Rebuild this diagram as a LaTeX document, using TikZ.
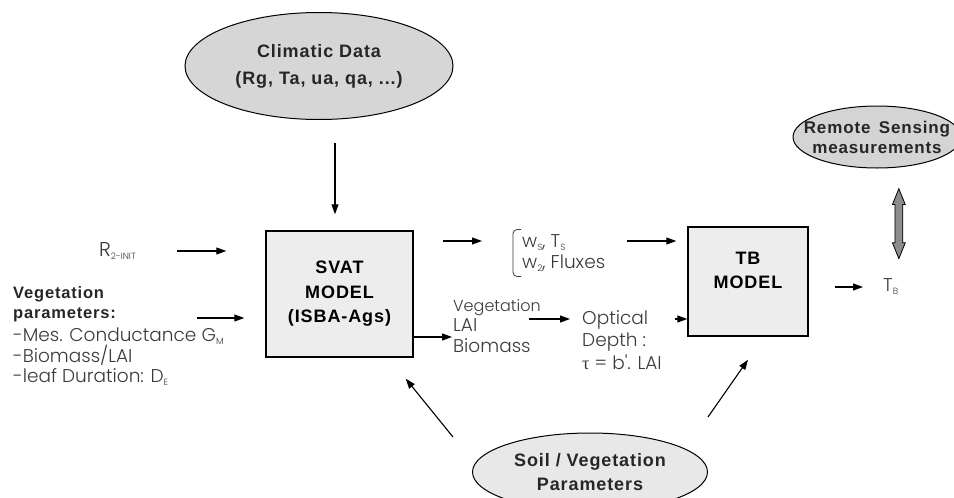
\documentclass[tikz,border=0pt]{standalone}
\usepackage{fontspec}
\setmainfont{Liberation Sans}
\newfontfamily\thinfont{Poppins Light}
\newfontfamily\spreadfont{Liberation Sans}[LetterSpace=5]
\newfontfamily\greekfont{Liberation Serif}
\usepackage{tikz}
\usetikzlibrary{shapes.geometric,shapes.arrows,arrows.meta,calc}

\definecolor{inkgray}{HTML}{3A3A3A}
\newcommand\boldlbl{\spreadfont\bfseries\fontsize{18}{24.5}\selectfont}
\newcommand\thinlbl{\thinfont\fontsize{18.5}{20.5}\selectfont}
\newcommand\lowsub[1]{\raisebox{-3pt}{\fontsize{9}{9}\selectfont #1}}

\begin{document}
\begin{tikzpicture}[
    x=1pt, y=-1pt,
    model/.style={rectangle, draw, line width=1.4pt, fill=black!7, inner sep=0pt},
    cloud/.style={ellipse, draw, line width=1pt, font=\boldlbl, text=black!85, align=center, inner sep=-15pt},
    thinlabel/.style={font=\thinlbl, text=inkgray, inner sep=0pt, align=left},
    arrow/.style={line width=1.1pt, -{Triangle[length=10pt,width=7pt]}},
    sensing/.style={double arrow, draw, line width=0.8pt, fill=black!45, inner sep=3.5pt, minimum height=70pt, double arrow head extend=2.5pt, double arrow tip angle=44, rotate=90}
]
    \useasboundingbox (0,0) rectangle (954,498);

    % inputs
    \node [cloud, fill=black!16, minimum width=268, minimum height=107] (climatic) at (319,66) {Climatic Data\\[2.5pt](Rg, Ta, ua, qa, ...)};
    \node [cloud, fill=black!9, minimum width=235, minimum height=78] (soil) at (590,472) {Soil / Vegetation\\Parameters};
    \node [cloud, fill=black!17, minimum width=168, minimum height=62, font=\spreadfont\bfseries\fontsize{17}{20}\selectfont] (remote) at (877,137) {Remote\, Sensing\\measurements};

    % models
    \node [model, minimum width=147, minimum height=126, font=\boldlbl, align=center] (svat) at (339.5,294) {SVAT\\MODEL\\(ISBA-Ags)};
    \node [model, minimum width=120, minimum height=109] (tb) at (748,281.5) {};
    \node [font=\boldlbl, align=center, inner sep=0pt] (tbtext) at ($(tb.center)+(0,-11)$) {TB\\MODEL};

    % texts
    \node [thinlabel, anchor=west, font=\thinfont\fontsize{20}{20}\selectfont] (r2init) at (99,251) {R\lowsub{2-INIT}};
    \node [font=\spreadfont\bfseries\fontsize{16.5}{20.5}\selectfont, text=black!85, inner sep=0pt, align=left, anchor=west] (vegpar) at (13,304) {Vegetation\\parameters:};
    \node [thinlabel, anchor=west] (vegitems) at (13,357) {-Mes. Conductance G\lowsub{M}\\-Biomass/LAI\\-leaf Duration: D\lowsub{E}};
    \node [thinlabel, anchor=west, inner ysep=5pt] (wsts) at (522,253) {w\lowsub{S}, T\lowsub{S}\\w\lowsub{2}, Fluxes};
    \node [thinlabel, anchor=west] (vegout) at (453,326) {{\fontsize{16}{16}\selectfont Vegetation}\\LAI\\Biomass};
    \node [thinlabel, anchor=west, font=\thinfont\fontsize{18.5}{22.5}\selectfont] (optdepth) at (582,340) {Optical\\Depth :\\{\greekfont τ} = b'. LAI};
    \node [thinlabel, anchor=west] (tbout) at (883,287) {T\lowsub{B}};

    \coordinate (wsrow) at ([yshift=12pt]wsts.west);
    \coordinate (biorow) at ([yshift=-43pt]svat.east);
    \coordinate (optrow) at ([yshift=21pt]optdepth.west);

    % bracket
    \draw [line width=0.8pt, rounded corners=4pt, inkgray] ([xshift=-1pt]wsts.north west) -| ([xshift=-9pt]wsts.south west) -- ([xshift=-1pt]wsts.south west);

    % connectors
    \draw [arrow, shorten <=23pt, shorten >=16pt] ([xshift=16pt]climatic.south) -- ([xshift=16pt]climatic.south |- svat.north);
    \draw [arrow, shorten >=39pt] ([xshift=-88pt]r2init.east -| svat.west) -- (r2init.east -| svat.west);
    \draw [arrow, shorten >=21pt] ([yshift=-14pt, xshift=-68pt]vegpar.east -| svat.west) -- ([yshift=-14pt]vegpar.east -| svat.west);
    \draw [arrow, shorten <=29pt, shorten >=40pt] (svat.east |- wsrow) -- (wsrow);
    \draw [arrow, shorten <=22pt, shorten >=11pt] (wsrow -| wsts.east) -- (wsrow -| tb.west);
    \draw [arrow, shorten >=1pt] (biorow) -- (biorow -| vegout.west);
    \draw [arrow, shorten >=12pt] ($(optrow -| vegout.east)+(-12,0)$) -- (optrow);
    \draw [arrow, shorten <=13pt] (optrow -| optdepth.east) -- (optrow -| tb.west);
    \draw [arrow, shorten <=26pt, shorten >=20pt] (tb.east |- tbout.west) -- (tbout.west);
    \draw [arrow] ([shift={(-19,-35)}]soil.west) -- ([shift={(-8,21)}]svat.south east);
    \draw [arrow] ([shift={(0,-55)}]soil.east) -- ([shift={(0,23)}]tb.south);

    \node [sensing] (link) at ($(remote.south)!0.5!(tbout.north)+(15,0)$) {};
\end{tikzpicture}
\end{document}
